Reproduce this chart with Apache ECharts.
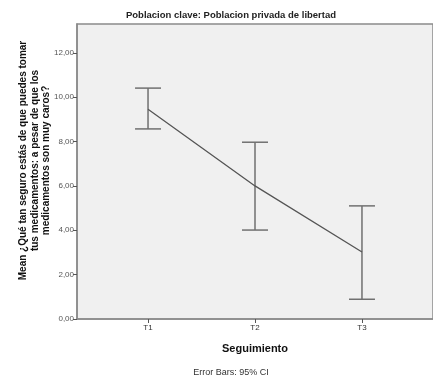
<!DOCTYPE html>
<html><head><meta charset="utf-8">
<script src="https://cdn.jsdelivr.net/npm/echarts@6/dist/echarts.min.js"></script>
<style>html,body{margin:0;padding:0;background:#fff}#c{width:433px;height:379px}</style>
</head><body><div id="c"></div>
<script>
const categories = ['T1', 'T2', 'T3'];
const means = [9.46, 6.0, 3.02];
const ciLow = [8.57, 4.01, 0.89];
const ciHigh = [10.41, 7.97, 5.10];
const yTicks = [0, 2, 4, 6, 8, 10, 12];

const chart = echarts.init(document.getElementById('c'), null, {renderer: 'canvas'});
const xs = categories.map((c, i) => i + 1);
const FF = 'Liberation Sans, Arial, sans-serif';
chart.setOption({
  animation: false,
  backgroundColor: '#ffffff',
  title: [{
    text: 'Poblacion clave: Poblacion privada de libertad',
    left: 226, top: 5, textAlign: 'center',
    textStyle: {fontFamily: FF, fontWeight: 'bold', fontSize: 9.5, color: '#222'}
  }, {
    text: 'Error Bars: 95% CI',
    left: 226, top: 363, textAlign: 'center',
    textStyle: {fontFamily: FF, fontWeight: 'normal', fontSize: 9, color: '#333'}
  }],
  grid: {left: 77, right: -10, top: 24, bottom: 60, show: true, backgroundColor: '#f0f0f0', borderColor: '#8a8a8a', borderWidth: 1.5},
  xAxis: {
    type: 'value', min: 0.336, max: 3.664,
    name: 'Seguimiento', nameLocation: 'middle', nameGap: 24,
    nameTextStyle: {fontFamily: FF, fontWeight: 'bold', fontSize: 11, color: '#111'},
    splitLine: {show: false},
    axisLine: {show: true, lineStyle: {color: '#8a8a8a', width: 1.5}},
    axisTick: {show: true, customValues: xs, length: 4, lineStyle: {color: '#555'}},
    axisLabel: {customValues: xs, formatter: v => categories[Math.round(v) - 1] || '', fontFamily: FF, fontSize: 8, color: '#333', margin: 5}
  },
  yAxis: {
    type: 'value', min: 0, max: 13.3,
    name: 'Mean ¿Qué tan seguro estás de que puedes tomar\ntus medicamentos: a pesar de que los\nmedicamentos son muy caros?',
    nameLocation: 'middle', nameGap: 25, nameMoveOverlap: false,
    nameTextStyle: {fontFamily: FF, fontWeight: 'bold', fontSize: 10, color: '#111', lineHeight: 11.5, padding: [0, 0, 0, 22]},
    splitLine: {show: false},
    axisLine: {show: true, lineStyle: {color: '#8a8a8a', width: 1.5}},
    axisTick: {show: true, customValues: yTicks, length: 4, lineStyle: {color: '#555'}},
    axisLabel: {customValues: yTicks, formatter: v => v.toFixed(2).replace('.', ','), fontFamily: FF, fontSize: 8, color: '#555', margin: 3}
  },
  series: [{
    type: 'line',
    data: xs.map((x, i) => [x, means[i]]),
    showSymbol: false, symbol: 'none',
    lineStyle: {color: '#555555', width: 1.3},
    z: 3
  }, {
    type: 'custom',
    data: xs.map((x, i) => [x, ciLow[i], ciHigh[i]]),
    renderItem: function (params, api) {
      const lo = api.coord([api.value(0), api.value(1)]);
      const hi = api.coord([api.value(0), api.value(2)]);
      const hw = 13;
      const st = {stroke: '#707070', lineWidth: 1.5, fill: null};
      return {type: 'group', children: [
        {type: 'line', shape: {x1: lo[0], y1: lo[1], x2: hi[0], y2: hi[1]}, style: st},
        {type: 'line', shape: {x1: lo[0] - hw, y1: lo[1], x2: lo[0] + hw, y2: lo[1]}, style: st},
        {type: 'line', shape: {x1: hi[0] - hw, y1: hi[1], x2: hi[0] + hw, y2: hi[1]}, style: st}
      ]};
    },
    z: 2
  }]
});
</script></body></html>
